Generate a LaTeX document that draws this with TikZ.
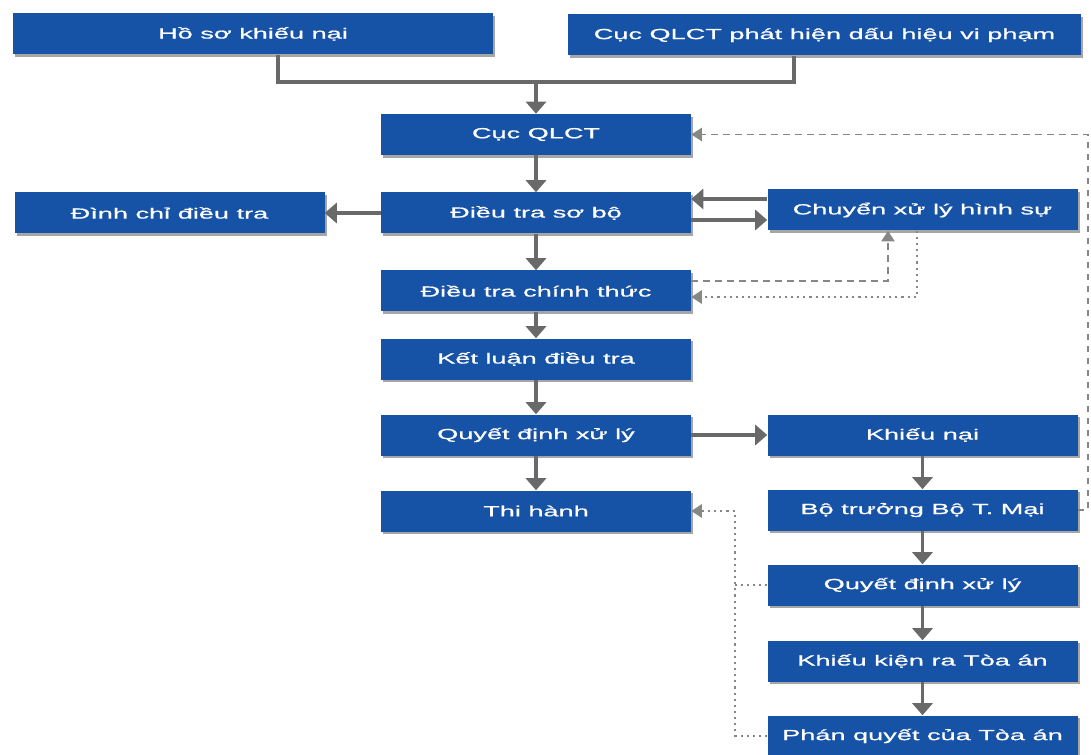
\documentclass[tikz,border=0pt]{standalone}
\usepackage{fontspec}
\newfontfamily\boxfont[FakeStretch=1.85,FakeBold=0.8]{Liberation Sans}
\usetikzlibrary{arrows.meta,shadows,calc}
\definecolor{boxblue}{RGB}{22,82,166}
\definecolor{linegray}{RGB}{105,105,105}
\definecolor{dashgray}{RGB}{135,135,135}
\begin{document}
\begin{tikzpicture}[x=0.75pt,y=-0.75pt,
  box/.style={fill=boxblue, text=white, font=\boxfont\fontsize{11}{13}\selectfont,
    minimum height=30.75pt, inner sep=0pt,
    drop shadow={shadow xshift=1.5pt, shadow yshift=-2.2pt, opacity=0.35, fill=black}},
  wide/.style={minimum width=232.5pt},
  link/.style={draw=linegray, line width=2.4pt},
  arr/.style={link, -{Triangle[width=15pt,length=9pt]}},
  dashlink/.style={draw=dashgray, line width=1.2pt, dash pattern=on 5pt off 4pt},
  dotlink/.style={draw=dashgray, line width=1.6pt, dash pattern=on 1.6pt off 3pt},
  darr/.style={-{Triangle[width=10pt,length=8pt]}}
]
\useasboundingbox (0,0) rectangle (1091,755);

\node[box, minimum width=360pt] (hoso) at (253,34) {Hồ sơ khiếu nại};
\node[box, minimum width=384.75pt] (phathien) at (824.5,35) {Cục QLCT phát hiện dấu hiệu vi phạm};
\node[box,wide] (cuc) at (536,134.5) {Cục QLCT};
\node[box,wide] (dinhchi) at (169.5,213) {Đình chỉ điều tra};
\node[box,wide] (dtsb) at (536,213) {Điều tra sơ bộ};
\node[box,wide] (chuyen) at (922.5,210) {Chuyển xử lý hình sự};
\node[box,wide] (dtct) at (536,291) {Điều tra chính thức};
\node[box,wide] (ketluan) at (536,359) {Kết luận điều tra};
\node[box,wide] (qd) at (536,435) {Quyết định xử lý};
\node[box,wide] (thihanh) at (536,511) {Thi hành};
\node[box,wide] (khieunai) at (922.5,435) {Khiếu nại};
\node[box,wide] (botruong) at (922.5,510) {Bộ trưởng Bộ T. Mại};
\node[box,wide] (qd2) at (922.5,585) {Quyết định xử lý};
\node[box,wide] (khieukien) at (922.5,661) {Khiếu kiện ra Tòa án};
\node[box,wide] (phanquyet) at (922.5,736) {Phán quyết của Tòa án};

% top join
\coordinate (jl) at (278,82);
\coordinate (jr) at (794,82);
\coordinate (join) at (536,82);
\draw[link] (jl |- hoso.south) -- (jl) -- (jr) -- (jr |- phathien.south);
\draw[arr] (join) -- (cuc.north);

% main column
\draw[arr] (cuc.south) -- (dtsb.north);
\draw[arr] (dtsb.west) -- (dinhchi.east);
\coordinate (yu) at (0,199);
\coordinate (yl) at (0,220);
\draw[arr] (chuyen.west |- yu) -- (dtsb.east |- yu);
\draw[arr] (dtsb.east |- yl) -- (chuyen.west |- yl);
\draw[arr] (dtsb.south) -- (dtct.north);
\draw[arr] (dtct.south) -- (ketluan.north);
\draw[arr] (ketluan.south) -- (qd.north);
\draw[arr] (qd.south) -- (thihanh.north);
\draw[arr] (qd.east) -- (khieunai.west);

% right column
\draw[arr] (khieunai.south) -- (botruong.north);
\draw[arr] (botruong.south) -- (qd2.north);
\draw[arr] (qd2.south) -- (khieukien.north);
\draw[arr] (khieukien.south) -- (phanquyet.north);

% dashed feedback
\coordinate (dx1) at (888,281);
\draw[dashlink, darr] (dtct.east |- dx1) -- (dx1) -- (dx1 |- chuyen.south);
\coordinate (dx2) at (917,297);
\draw[dotlink, darr] (dx2 |- chuyen.south) -- (dx2) -- (dtct.east |- dx2);

\coordinate (rx) at (1088,0);
\draw[dashlink, darr] (botruong.east) -| (rx |- cuc.east) -- (cuc.east);

\coordinate (lx) at (735,0);
\draw[dotlink] (qd2.west) -- (lx |- qd2.west);
\draw[dotlink, darr] (phanquyet.west) -| (lx |- thihanh.east) -- (thihanh.east);
\end{tikzpicture}
\end{document}
